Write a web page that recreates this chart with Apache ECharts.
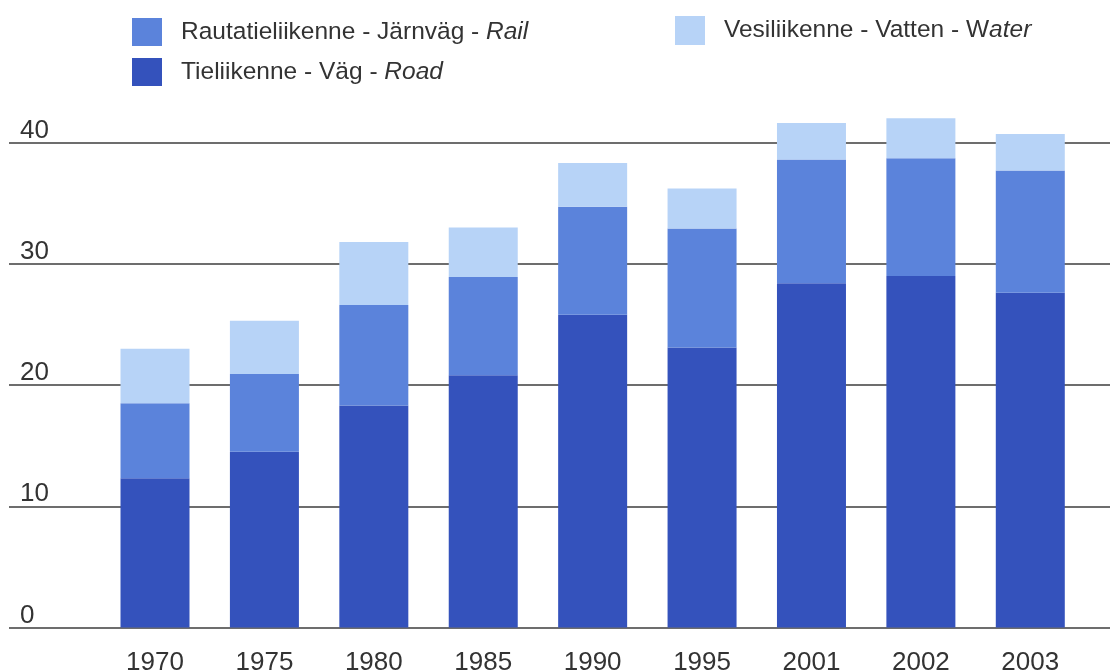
<!DOCTYPE html>
<html>
<head>
<meta charset="utf-8">
<script src="https://cdn.jsdelivr.net/npm/echarts@6/dist/echarts.min.js"></script>
<style>
html,body{margin:0;padding:0;background:#fff;}
#c{width:1111px;height:671px;}
</style>
</head>
<body>
<div id="c"></div>
<script>
const years = ['1970','1975','1980','1985','1990','1995','2001','2002','2003'];
const road  = [12.3, 14.5, 18.3, 20.8, 25.8, 23.1, 28.4, 29.0, 27.6];
const rail  = [6.2, 6.4, 8.3, 8.1, 8.9, 9.8, 10.2, 9.7, 10.1];
const water = [4.5, 4.4, 5.2, 4.1, 3.6, 3.3, 3.0, 3.3, 3.0];
const yTicks = [0, 10, 20, 30, 40];

const nRail = 'Rautatieliikenne - Järnväg - Rail';
const nRoad = 'Tieliikenne - Väg - Road';
const nWater = 'Vesiliikenne - Vatten - Water';

const FONT = '"Liberation Sans", Arial, sans-serif';
const TXT = '#333333';

function fmt(name){
  if (name === nWater) return '{n|Vesiliikenne - Vatten - W}{i|ater}';
  const idx = name.lastIndexOf(' - ');
  return '{n|' + name.slice(0, idx + 3) + '}{i|' + name.slice(idx + 3) + '}';
}
const legendText = {
  fontFamily: FONT, fontSize: 24.5, color: TXT, padding: [0, 0, 0, 14],
  rich: {
    n: {fontFamily: FONT, fontSize: 24.5, color: TXT},
    i: {fontFamily: FONT, fontSize: 24.5, color: TXT, fontStyle: 'italic'}
  }
};

const chart = echarts.init(document.getElementById('c'), null, {renderer: 'canvas'});
chart.setOption({
  backgroundColor: '#ffffff',
  animation: false,
  legend: [
    {data: [nRail, nRoad], orient: 'vertical', left: 127, top: 13, itemWidth: 30, itemHeight: 28,
     itemGap: 12, icon: 'rect', formatter: fmt, textStyle: legendText, selectedMode: false},
    {data: [nWater], orient: 'vertical', left: 670, top: 11, itemWidth: 30, itemHeight: 29,
     icon: 'rect', formatter: fmt, textStyle: legendText, selectedMode: false}
  ],
  grid: [
    {left: 100.3, right: 26, top: 142.5, bottom: 43.5, containLabel: false, outerBoundsMode: 'none'},
    {left: 9, right: 1, top: 142.5, bottom: 43.5, containLabel: false, outerBoundsMode: 'none'}
  ],
  xAxis: [
    {type: 'category', gridIndex: 0, data: years,
     axisLine: {show: false}, axisTick: {show: false},
     axisLabel: {fontFamily: FONT, fontSize: 26, color: TXT, margin: 22}},
    {type: 'value', gridIndex: 1, min: 0, max: 1, show: false}
  ],
  yAxis: [
    {type: 'value', gridIndex: 0, min: 0, max: 40, interval: 10, show: false},
    {type: 'value', gridIndex: 1, min: yTicks[0], max: yTicks[yTicks.length - 1], interval: 10,
     axisLine: {show: false}, axisTick: {show: false},
     splitLine: {show: true, lineStyle: {color: '#3c3c3c', width: 1.5}},
     axisLabel: {inside: true, margin: 11, align: 'left', verticalAlign: 'bottom',
                 fontFamily: FONT, fontSize: 26, color: TXT, lineHeight: 24}}
  ],
  series: [
    {name: nRoad, type: 'bar', stack: 'a', xAxisIndex: 0, yAxisIndex: 0, data: road,
     barWidth: 69, clip: false, itemStyle: {color: '#3452BC'}},
    {name: nRail, type: 'bar', stack: 'a', xAxisIndex: 0, yAxisIndex: 0, data: rail,
     barWidth: 69, clip: false, itemStyle: {color: '#5B83DB'}},
    {name: nWater, type: 'bar', stack: 'a', xAxisIndex: 0, yAxisIndex: 0, data: water,
     barWidth: 69, clip: false, itemStyle: {color: '#B7D3F7'}}
  ]
});
</script>
</body>
</html>
